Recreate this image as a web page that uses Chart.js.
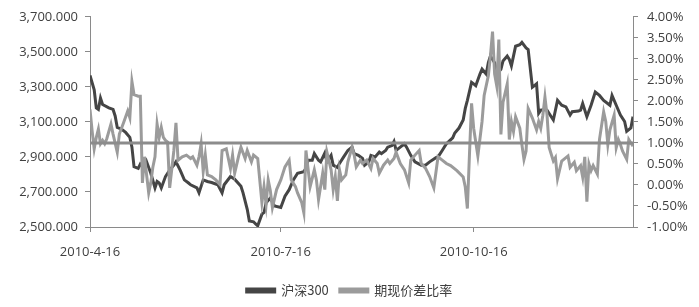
<!DOCTYPE html>
<html lang="zh">
  <head>
    <meta charset="UTF-8" />
    <title>沪深300与期现价差比率</title>
    <script src="https://cdn.jsdelivr.net/npm/chart.js"></script>
    <style>
      html, body { margin: 0; padding: 0; background: #fff; }
      #box { width: 699px; height: 307px; }
    </style>
  </head>
  <body>
    <div id="box"><canvas id="spreadChart" width="699" height="307"></canvas></div>
    <script>
      // days counted from 2010-4-16
      const tickDays = [0, 91, 183];
      const tickLabels = ["2010-4-16", "2010-7-16", "2010-10-16"];

      const hsDays = [0, 2, 3, 4, 5, 6, 9, 11, 12, 13, 15, 17, 19, 20, 21, 23, 24, 26, 27, 29,
        31, 32, 33, 34, 36, 38, 40, 41, 43, 45, 47, 48, 51, 52, 54, 56, 58, 61, 63, 64,
        67, 69, 72, 73, 75, 76, 78, 79, 80, 82, 83, 84, 86, 88, 91, 93, 95, 97, 99, 102,
        103, 104, 106, 107, 109, 110, 112, 113, 115, 116, 118, 119, 121, 123, 125, 126, 128, 130, 131, 133,
        134, 136, 138, 139, 141, 142, 144, 145, 146, 148, 150, 151, 153, 155, 158, 160, 162, 165, 166, 168,
        170, 173, 174, 176, 178, 179, 180, 182, 183, 184, 186, 187, 189, 190, 191, 193, 194, 196, 197, 199,
        200, 201, 203, 205, 206, 208, 209, 211, 212, 213, 214, 215, 217, 218, 221, 223, 225, 227, 229, 230,
        233, 234, 235, 237, 239, 241, 243, 245, 248, 249, 251, 253, 255, 256, 258, 259];
      const hs300 = [3365, 3283, 3180, 3171, 3236, 3199, 3180, 3171, 3134, 3068, 3059, 3040, 3012, 2956, 2844, 2835, 2859, 2835, 2872, 2807,
        2723, 2760, 2751, 2723, 2788, 2825, 2853, 2872, 2825, 2769, 2751, 2741, 2723, 2695, 2769, 2760, 2754, 2741, 2695, 2741,
        2788, 2773, 2732, 2695, 2601, 2535, 2530, 2517, 2507, 2573, 2583, 2639, 2665, 2620, 2611, 2676, 2713, 2769, 2807, 2816,
        2835, 2881, 2881, 2919, 2881, 2872, 2922, 2872, 2909, 2853, 2840, 2863, 2900, 2937, 2956, 2919, 2909, 2891, 2853, 2872,
        2909, 2900, 2928, 2919, 2937, 2956, 2965, 2988, 2937, 2956, 2975, 2956, 2909, 2872, 2853, 2853, 2872, 2896, 2900, 2937,
        2975, 3009, 3037, 3065, 3111, 3177, 3223, 3326, 3317, 3307, 3373, 3401, 3373, 3438, 3476, 3438, 3373, 3401, 3448, 3476,
        3457, 3420, 3532, 3541, 3554, 3522, 3513, 3298, 3307, 3317, 3149, 3167, 3171, 3167, 3111, 3223, 3195, 3186, 3139, 3158,
        3162, 3167, 3205, 3130, 3195, 3270, 3251, 3223, 3195, 3251, 3195, 3139, 3102, 3046, 3065, 3130];

      const spDays = [0, 1, 2, 3, 4, 5, 6, 7, 8, 10, 11, 13, 14, 16, 18, 19, 20, 21, 23, 24,
        25, 26, 28, 29, 30, 31, 32, 33, 34, 35, 36, 37, 38, 40, 41, 42, 44, 46, 48, 49,
        51, 52, 53, 54, 55, 56, 58, 60, 62, 63, 65, 67, 68, 69, 71, 72, 74, 75, 77, 78,
        80, 82, 83, 84, 85, 86, 87, 89, 91, 93, 95, 96, 98, 99, 101, 102, 103, 105, 107, 108,
        109, 111, 112, 113, 115, 116, 117, 118, 119, 120, 122, 123, 125, 126, 127, 129, 130, 132, 134, 135,
        137, 138, 140, 142, 143, 145, 146, 148, 150, 152, 153, 155, 157, 158, 160, 162, 164, 166, 168, 170,
        172, 175, 178, 179, 180, 181, 182, 183, 185, 187, 188, 190, 191, 192, 193, 194, 195, 196, 197, 199,
        200, 201, 202, 203, 205, 206, 207, 208, 209, 211, 213, 214, 215, 216, 217, 218, 219, 221, 222, 223,
        225, 226, 228, 229, 231, 232, 234, 235, 236, 237, 238, 239, 240, 242, 243, 245, 246, 247, 248, 250,
        251, 252, 253, 254, 256, 257, 258, 259];
      const spread = [1.80, 1.29, 0.86, 1.13, 1.33, 0.98, 1.06, 0.98, 1.10, 1.45, 1.21, 0.78, 1.21, 1.48, 1.76, 1.60, 2.46, 2.15, 2.11, 2.11,
        0.05, 0.67, -0.19, 0.05, 0.43, 0.67, 1.45, 1.13, 1.37, 1.13, 1.06, 1.02, -0.07, 0.82, 1.48, 0.59, 0.67, 0.71, 0.63, 0.67,
        0.47, 0.67, 0.98, 0.32, 0.71, 0.24, 0.20, 0.12, 0.01, 0.82, 0.86, 0.39, 0.71, 0.28, 0.71, 0.90, 0.63, 0.82, 0.55, 0.71,
        0.63, -0.42, -0.04, -0.46, 0.12, -0.13, -0.54, -0.11, 0.12, 0.43, 0.59, 0.12, -0.04, -0.19, -0.42, -0.66, 0.82, -0.04, 0.36, 0.12,
        -0.35, 0.28, -0.11, 0.78, 0.36, -0.11, 0.20, -0.38, 0.36, 0.12, 0.24, 0.55, 0.90, 0.71, 0.43, 0.59, 0.51, 0.59, 0.39, 0.63,
        0.51, 0.28, 0.47, 0.59, 0.51, 0.63, 0.78, 0.51, 0.36, 0.05, 0.59, 0.71, 0.82, 0.51, 0.40, 0.20, -0.07, 0.67, 0.59, 0.51,
        0.46, 0.34, 0.19, -0.05, -0.56, 0.73, 1.94, 1.35, 0.69, 1.51, 2.13, 2.60, 3.07, 3.65, 2.64, 2.36, 3.46, 1.20, 1.97, 2.40,
        1.08, 1.51, 1.27, 1.62, 1.35, 0.96, 0.61, 0.81, 1.82, 1.59, 1.31, 1.51, 1.35, 1.66, 2.09, 1.66, 0.89, 0.57, 0.65, 0.15,
        0.57, 0.61, 0.69, 0.42, 0.54, 0.34, 0.46, 0.19, 0.67, -0.40, 0.50, 0.34, 0.46, 0.26, 1.08, 1.74, 1.51, 0.96, 1.31, 1.66,
        0.89, 1.08, 0.96, 0.81, 0.61, 1.08, 1.00, 0.92];

      const refLevel = 1.0; // 1% reference line
      const lastDay = 259;

      const axisColor = "#8a8a8a";
      const textColor = "#404040";
      const tickFont = { family: "'Open Sans', 'DejaVu Sans', sans-serif", size: 13 };

      const ctx = document.getElementById("spreadChart").getContext("2d");

      new Chart(ctx, {
        type: "line",
        data: {
          datasets: [
            {
              label: "沪深300",
              data: hsDays.map((d, i) => ({ x: d, y: hs300[i] })),
              yAxisID: "y",
              borderColor: "#454545",
              backgroundColor: "#454545",
              borderWidth: 3,
              pointRadius: 0,
              tension: 0,
              order: 2,
            },
            {
              label: "期现价差比率",
              data: spDays.map((d, i) => ({ x: d, y: spread[i] })),
              yAxisID: "y1",
              borderColor: "#9b9b9b",
              backgroundColor: "#9b9b9b",
              borderWidth: 3,
              pointRadius: 0,
              tension: 0,
              order: 1,
            },
            {
              label: "",
              data: [{ x: 0, y: refLevel }, { x: lastDay, y: refLevel }],
              yAxisID: "y1",
              borderColor: "#8c8c8c",
              borderWidth: 3,
              pointRadius: 0,
              order: 0,
            },
          ],
        },
        options: {
          responsive: false,
          animation: false,
          layout: { padding: { top: 14, left: 0, right: 0, bottom: 0 } },
          plugins: {
            tooltip: { enabled: false },
            legend: {
              position: "bottom",
              labels: {
                filter: (item) => item.text !== "",
                sort: (a, b) => a.datasetIndex - b.datasetIndex,
                boxWidth: 28,
                boxHeight: 3,
                padding: 11,
                color: textColor,
                font: { family: "'Noto Sans CJK SC', sans-serif", size: 13 },
              },
            },
          },
          scales: {
            x: {
              type: "linear",
              min: 0,
              max: lastDay,
              afterBuildTicks: (axis) => {
                axis.ticks = tickDays.map((v) => ({ value: v }));
              },
              afterFit: (scale) => { scale.height = 46; },
              grid: { drawOnChartArea: false, drawTicks: true, tickLength: 5, color: axisColor },
              border: { display: true, color: axisColor },
              ticks: {
                padding: 12,
                maxRotation: 0,
                color: textColor,
                font: tickFont,
                callback: (v) => tickLabels[tickDays.indexOf(v)],
              },
            },
            y: {
              position: "left",
              min: 2500,
              max: 3700,
              afterFit: (scale) => { scale.width = 90; },
              grid: { drawOnChartArea: false, drawTicks: true, tickLength: 5, color: axisColor },
              border: { display: true, color: axisColor },
              ticks: {
                stepSize: 200,
                padding: 7,
                color: textColor,
                font: tickFont,
                callback: (v) => v.toLocaleString("en-US") + ".000",
              },
            },
            y1: {
              position: "right",
              min: -1,
              max: 4,
              afterFit: (scale) => { scale.width = 66; },
              grid: { drawOnChartArea: false, drawTicks: true, tickLength: 5, color: axisColor },
              border: { display: true, color: axisColor },
              ticks: {
                stepSize: 0.5,
                padding: 9,
                color: textColor,
                font: tickFont,
                callback: (v) => v.toFixed(2) + "%",
              },
            },
          },
        },
      });
    </script>
  </body>
</html>
